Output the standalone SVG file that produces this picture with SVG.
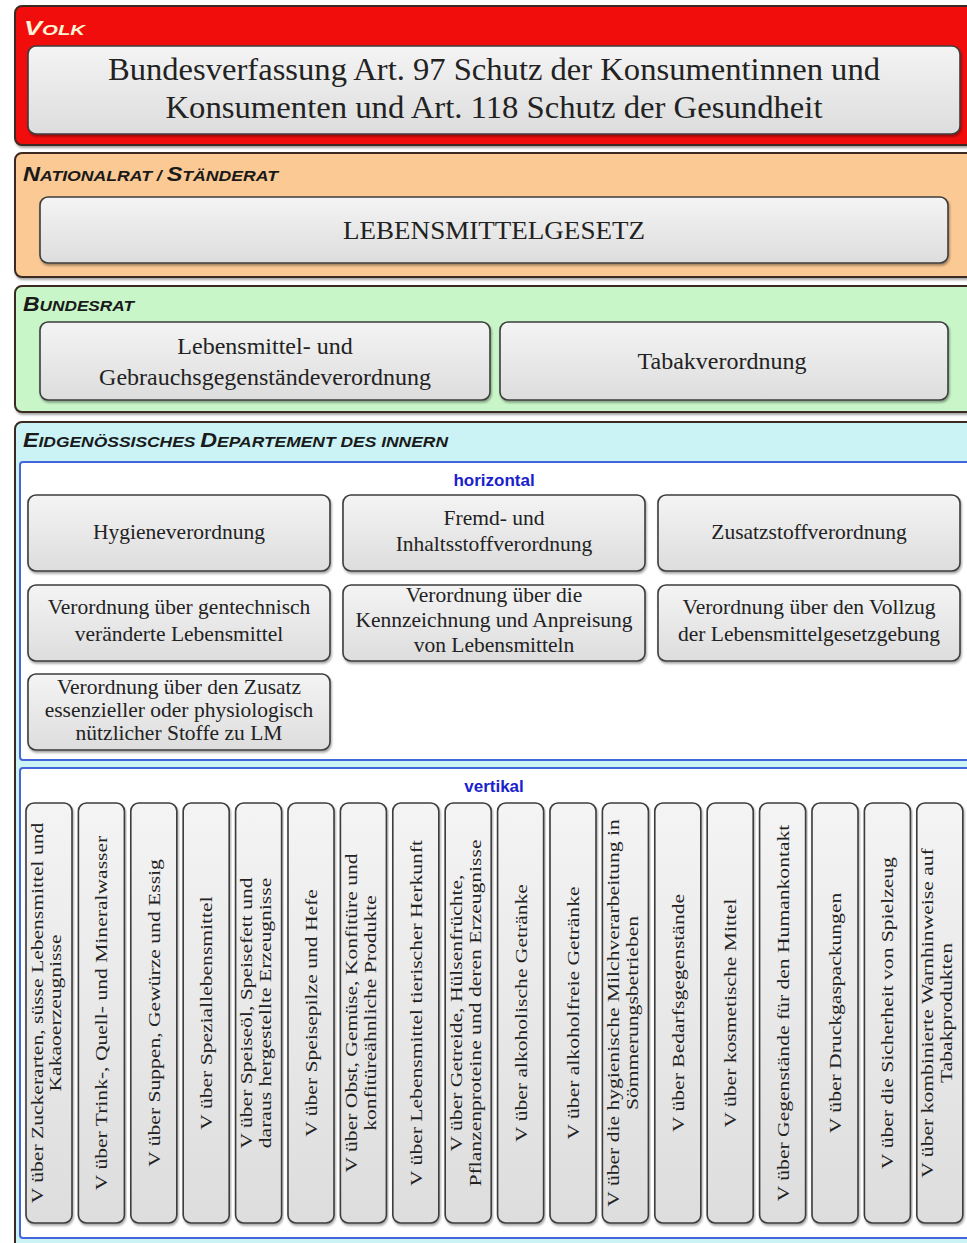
<svg xmlns="http://www.w3.org/2000/svg" width="967" height="1243" viewBox="0 0 967 1243">
<defs>
<linearGradient id="boxg" x1="0" y1="0" x2="0" y2="1">
<stop offset="0" stop-color="#f4f4f4"/><stop offset="1" stop-color="#dddddd"/>
</linearGradient>
<filter id="sh" x="-5%" y="-5%" width="110%" height="120%">
<feDropShadow dx="1" dy="2" stdDeviation="1.2" flood-color="#000" flood-opacity="0.35"/>
</filter>
</defs>
<style>
.panel{stroke:#3a2a20;stroke-width:2;filter:url(#sh)}
.box{fill:url(#boxg);stroke:#3c3c3c;stroke-width:1.6;filter:url(#sh)}
.sub{fill:#ffffff;stroke:#4466dd;stroke-width:2}
.lbl{font-family:"Liberation Sans",Arial,sans-serif;font-weight:bold;font-style:italic;fill:#1a1a1a}
.big{font-size:20px}
.sm{font-size:15px}
.t{font-family:"Liberation Serif","Times New Roman",serif;fill:#222;text-anchor:middle}
.t30{font-size:31px}
.t24{font-size:26px}
.t22{font-size:24px}
.t20{font-size:21.5px}
.tv{font-size:17px}
.blue{font-family:"Liberation Sans",Arial,sans-serif;font-weight:bold;font-size:17px;fill:#1a22cc;text-anchor:middle}
</style>

<g id="volk">
<rect class="panel" x="15" y="6" width="970" height="139" rx="7" fill="#f20d0d" stroke="#5a0000"/>
<text class="lbl" x="24" y="35" style="fill:#fff3d6" textLength="61" lengthAdjust="spacingAndGlyphs"><tspan class="big">V</tspan><tspan class="sm">OLK</tspan></text>
<g id="bv">
<rect class="box" x="28" y="46" width="932" height="88" rx="8"/>
<text class="t t30" x="494" y="80" textLength="772" lengthAdjust="spacingAndGlyphs">Bundesverfassung Art. 97 Schutz der Konsumentinnen und</text>
<text class="t t30" x="494" y="118" textLength="657" lengthAdjust="spacingAndGlyphs">Konsumenten und Art. 118 Schutz der Gesundheit</text>
</g>
</g>

<g id="nationalrat">
<rect class="panel" x="15" y="153" width="970" height="124" rx="7" fill="#fbc993"/>
<text class="lbl" x="23" y="181" textLength="255" lengthAdjust="spacingAndGlyphs"><tspan class="big">N</tspan><tspan class="sm">ATIONALRAT / </tspan><tspan class="big">S</tspan><tspan class="sm">TÄNDERAT</tspan></text>
<g id="lmg">
<rect class="box" x="40" y="197" width="908" height="66" rx="8"/>
<text class="t t24" x="494" y="239" textLength="302" lengthAdjust="spacingAndGlyphs">LEBENSMITTELGESETZ</text>
</g>
</g>

<g id="bundesrat">
<rect class="panel" x="15" y="286" width="970" height="126" rx="7" fill="#c9f6c9"/>
<text class="lbl" x="23" y="311" textLength="111" lengthAdjust="spacingAndGlyphs"><tspan class="big">B</tspan><tspan class="sm">UNDESRAT</tspan></text>
<g id="lgv">
<rect class="box" x="40" y="322" width="450" height="78" rx="8"/>
<text class="t t22" x="265" y="354">Lebensmittel- und</text>
<text class="t t22" x="265" y="385">Gebrauchsgegenständeverordnung</text>
</g>
<g id="tabak">
<rect class="box" x="500" y="322" width="448" height="78" rx="8"/>
<text class="t t22" x="722" y="369">Tabakverordnung</text>
</g>
</g>

<g id="edi">
<rect class="panel" x="15" y="422" width="970" height="840" rx="7" fill="#cbf3f6"/>
<text class="lbl" x="23" y="447" textLength="425" lengthAdjust="spacingAndGlyphs"><tspan class="big">E</tspan><tspan class="sm">IDGENÖSSISCHES </tspan><tspan class="big">D</tspan><tspan class="sm">EPARTEMENT DES INNERN</tspan></text>
</g>

<g id="horizontal">
<rect class="sub" x="20" y="462" width="960" height="298" rx="3"/>
<text class="blue" x="494" y="486">horizontal</text>
<g id="h1"><rect class="box" x="28" y="495" width="302" height="76" rx="8"/>
<text class="t t20" x="179" y="539">Hygieneverordnung</text></g>
<g id="h2"><rect class="box" x="343" y="495" width="302" height="76" rx="8"/>
<text class="t t20" x="494" y="525">Fremd- und</text>
<text class="t t20" x="494" y="551">Inhaltsstoffverordnung</text></g>
<g id="h3"><rect class="box" x="658" y="495" width="302" height="76" rx="8"/>
<text class="t t20" x="809" y="539">Zusatzstoffverordnung</text></g>
<g id="h4"><rect class="box" x="28" y="585" width="302" height="76" rx="8"/>
<text class="t t20" x="179" y="614">Verordnung über gentechnisch</text>
<text class="t t20" x="179" y="641">veränderte Lebensmittel</text></g>
<g id="h5"><rect class="box" x="343" y="585" width="302" height="76" rx="8"/>
<text class="t t20" x="494" y="602">Verordnung über die</text>
<text class="t t20" x="494" y="627">Kennzeichnung und Anpreisung</text>
<text class="t t20" x="494" y="652">von Lebensmitteln</text></g>
<g id="h6"><rect class="box" x="658" y="585" width="302" height="76" rx="8"/>
<text class="t t20" x="809" y="614">Verordnung über den Vollzug</text>
<text class="t t20" x="809" y="641">der Lebensmittelgesetzgebung</text></g>
<g id="h7"><rect class="box" x="28" y="674" width="302" height="76" rx="8"/>
<text class="t t20" x="179" y="694">Verordnung über den Zusatz</text>
<text class="t t20" x="179" y="717">essenzieller oder physiologisch</text>
<text class="t t20" x="179" y="740">nützlicher Stoffe zu LM</text></g>
</g>

<g id="vertical">
<rect class="sub" x="20" y="768" width="960" height="470" rx="3"/>
<text class="blue" x="494" y="792">vertikal</text>
<g id="v1"><rect class="box" x="26" y="803" width="46" height="420" rx="8"/>
<text class="t tv" transform="translate(42.5,1013) rotate(-90) scale(1.27,1)">V über Zuckerarten, süsse Lebensmittel und<tspan x="0" dy="19">Kakaoerzeugnisse</tspan></text></g>
<g id="v2"><rect class="box" x="78.4" y="803" width="46" height="420" rx="8"/>
<text class="t tv" transform="translate(107.4,1013) rotate(-90) scale(1.27,1)">V über Trink-, Quell- und Mineralwasser</text></g>
<g id="v3"><rect class="box" x="130.8" y="803" width="46" height="420" rx="8"/>
<text class="t tv" transform="translate(159.8,1013) rotate(-90) scale(1.27,1)">V über Suppen, Gewürze und Essig</text></g>
<g id="v4"><rect class="box" x="183.2" y="803" width="46" height="420" rx="8"/>
<text class="t tv" transform="translate(212.2,1013) rotate(-90) scale(1.27,1)">V über Speziallebensmittel</text></g>
<g id="v5"><rect class="box" x="235.6" y="803" width="46" height="420" rx="8"/>
<text class="t tv" transform="translate(252.1,1013) rotate(-90) scale(1.27,1)">V über Speiseöl, Speisefett und<tspan x="0" dy="19">daraus hergestellte Erzeugnisse</tspan></text></g>
<g id="v6"><rect class="box" x="288" y="803" width="46" height="420" rx="8"/>
<text class="t tv" transform="translate(317,1013) rotate(-90) scale(1.27,1)">V über Speisepilze und Hefe</text></g>
<g id="v7"><rect class="box" x="340.4" y="803" width="46" height="420" rx="8"/>
<text class="t tv" transform="translate(356.9,1013) rotate(-90) scale(1.27,1)">V über Obst, Gemüse, Konfitüre und<tspan x="0" dy="19">konfitüreähnliche Produkte</tspan></text></g>
<g id="v8"><rect class="box" x="392.8" y="803" width="46" height="420" rx="8"/>
<text class="t tv" transform="translate(421.8,1013) rotate(-90) scale(1.27,1)">V über Lebensmittel tierischer Herkunft</text></g>
<g id="v9"><rect class="box" x="445.2" y="803" width="46" height="420" rx="8"/>
<text class="t tv" transform="translate(461.7,1013) rotate(-90) scale(1.27,1)">V über Getreide, Hülsenfrüchte,<tspan x="0" dy="19">Pflanzenproteine und deren Erzeugnisse</tspan></text></g>
<g id="v10"><rect class="box" x="497.6" y="803" width="46" height="420" rx="8"/>
<text class="t tv" transform="translate(526.6,1013) rotate(-90) scale(1.27,1)">V über alkoholische Getränke</text></g>
<g id="v11"><rect class="box" x="550" y="803" width="46" height="420" rx="8"/>
<text class="t tv" transform="translate(579,1013) rotate(-90) scale(1.27,1)">V über alkoholfreie Getränke</text></g>
<g id="v12"><rect class="box" x="602.4" y="803" width="46" height="420" rx="8"/>
<text class="t tv" transform="translate(618.9,1013) rotate(-90) scale(1.27,1)">V über die hygienische Milchverarbeitung in<tspan x="0" dy="19">Sömmerungsbetrieben</tspan></text></g>
<g id="v13"><rect class="box" x="654.8" y="803" width="46" height="420" rx="8"/>
<text class="t tv" transform="translate(683.8,1013) rotate(-90) scale(1.27,1)">V über Bedarfsgegenstände</text></g>
<g id="v14"><rect class="box" x="707.2" y="803" width="46" height="420" rx="8"/>
<text class="t tv" transform="translate(736.2,1013) rotate(-90) scale(1.27,1)">V über kosmetische Mittel</text></g>
<g id="v15"><rect class="box" x="759.6" y="803" width="46" height="420" rx="8"/>
<text class="t tv" transform="translate(788.6,1013) rotate(-90) scale(1.27,1)">V über Gegenstände für den Humankontakt</text></g>
<g id="v16"><rect class="box" x="812" y="803" width="46" height="420" rx="8"/>
<text class="t tv" transform="translate(841,1013) rotate(-90) scale(1.27,1)">V über Druckgaspackungen</text></g>
<g id="v17"><rect class="box" x="864.4" y="803" width="46" height="420" rx="8"/>
<text class="t tv" transform="translate(893.4,1013) rotate(-90) scale(1.27,1)">V über die Sicherheit von Spielzeug</text></g>
<g id="v18"><rect class="box" x="916.8" y="803" width="46" height="420" rx="8"/>
<text class="t tv" transform="translate(933.3,1013) rotate(-90) scale(1.27,1)">V über kombinierte Warnhinweise auf<tspan x="0" dy="19">Tabakprodukten</tspan></text></g>
</g>

<g id="connectors"></g>
</svg>
